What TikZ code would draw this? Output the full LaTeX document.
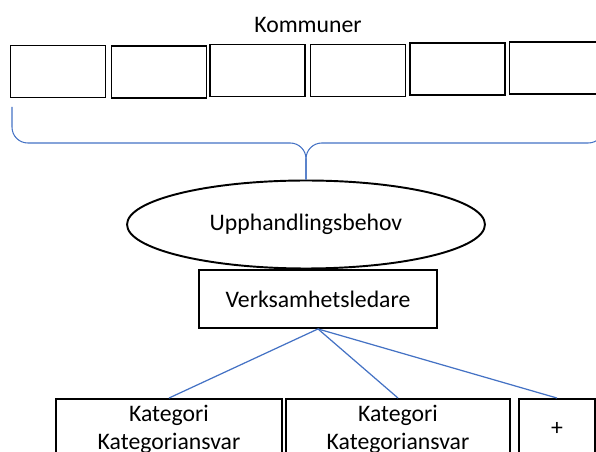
\documentclass[tikz,border=0pt]{standalone}
\usepackage{fontspec}
\setmainfont{Carlito}
\usetikzlibrary{shapes.geometric}
\definecolor{linkblue}{RGB}{68,114,196}
\begin{document}
\begin{tikzpicture}[x=0.02cm, y=-0.02cm, font=\fontsize{13.5}{16}\selectfont,
	box/.style={draw, line width=1.1pt, inner sep=0pt, align=center},
	link/.style={draw=linkblue, line width=0.7pt},
	brace/.style={draw=linkblue, line width=0.6pt, rounded corners=9pt}]
	\useasboundingbox (0,0) rectangle (596,452);
	\clip (0,0) rectangle (596,452);
	% Kommuner row:
	\node (kommuner) at (308,25) {Kommuner};
	\foreach \n/\cx/\cy in {1/58/71.5, 2/159/72, 3/257.5/70.5, 4/358/70.5, 5/457.5/69, 6/557/68}
		\node[box, minimum width=1.9cm, minimum height=1.04cm] (k\n) at (\cx,\cy) {};
	% Nodes:
	\node[box, shape=ellipse, minimum width=7.16cm, minimum height=1.76cm] (behov) at (306,224.5) {Upphandlingsbehov};
	\node[box, minimum width=4.76cm, minimum height=1.16cm] (ledare) at (318,299) {Verksamhetsledare};
	\node[box, minimum width=4.52cm, minimum height=1.2cm] (kat1) at (169,429) {Kategori\\Kategoriansvar};
	\node[box, minimum width=4.48cm, minimum height=1.2cm] (kat2) at (398,429) {Kategori\\Kategoriansvar};
	\node[box, minimum width=1.52cm, minimum height=1.2cm] (plus) at (557,429) {+};
	% Brace and links:
	\coordinate (bl) at (12,107);
	\coordinate (br) at (604,107);
	\coordinate (bm) at (0,143);
	\draw[brace] (bl) -- (bl |- bm) -- (behov.north |- bm) -- (behov.north);
	\draw[brace] (br) -- (br |- bm) -- (behov.north |- bm) -- (behov.north);
	\draw[link] (ledare.south) -- (kat1.north);
	\draw[link] (ledare.south) -- (kat2.north);
	\draw[link] (ledare.south) -- (plus.north);
\end{tikzpicture}
\end{document}
